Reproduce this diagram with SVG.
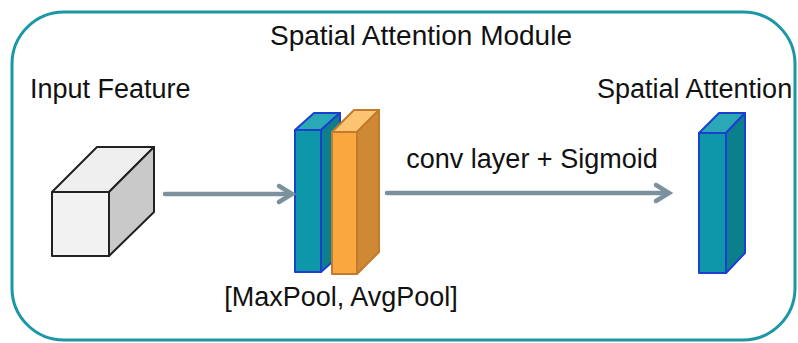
<svg xmlns="http://www.w3.org/2000/svg" width="798" height="343" viewBox="0 0 798 343">
<style>
text{font-family:"Liberation Sans",Arial,sans-serif;fill:#111;}
.lbl{font-size:27px;}
.title{font-size:28px;}
.cube{stroke:#222;stroke-width:2;stroke-linejoin:round;}
.blue{stroke:#1c3fd0;stroke-width:2;stroke-linejoin:round;}
.orng{stroke:#c27a2c;stroke-width:2;stroke-linejoin:round;}
.conn{stroke:#7b929e;stroke-width:4.5;fill:none;stroke-linecap:round;stroke-linejoin:miter;}
</style>
<rect x="0" y="0" width="798" height="343" fill="#ffffff"/>
<rect id="frame" x="12" y="12" width="783" height="328" rx="52" ry="52" fill="#ffffff" stroke="#1b97a6" stroke-width="3"/>
<text class="title" x="421" y="45" text-anchor="middle">Spatial Attention Module</text>
<g id="input-feature">
<text class="lbl" x="30" y="98">Input Feature</text>
<polygon class="cube" points="52,192 97,147 154,147 109,192" fill="#efefef"/>
<polygon class="cube" points="109,192 154,147 154,212 109,256" fill="#c9c9c9"/>
<rect class="cube" x="52" y="192" width="57" height="64" fill="#f2f2f2"/>
</g>
<g id="pooling">
<polygon class="blue" points="295,130 314,113 340,113 321,130" fill="#2aa8b6"/>
<polygon class="blue" points="321,130 340,113 340,255 321,272" fill="#0c7f8c"/>
<rect class="blue" x="295" y="130" width="26" height="142" fill="#0e97a8"/>
<polygon class="orng" points="332,132 354,110 379,110 357,132" fill="#fdc473"/>
<polygon class="orng" points="357,132 379,110 379,252 357,274" fill="#cf8935"/>
<rect class="orng" x="332" y="132" width="25" height="142" fill="#fba73f"/>
<text class="lbl" x="341" y="306" text-anchor="middle">[MaxPool, AvgPool]</text>
</g>
<g id="spatial-attention">
<text class="lbl" x="597" y="98">Spatial Attention</text>
<polygon class="blue" points="699,133 719,113 745,113 726,133" fill="#2aa8b6"/>
<polygon class="blue" points="726,133 745,113 745,253 726,273" fill="#0c7f8c"/>
<rect class="blue" x="699" y="133" width="27" height="140" fill="#0e97a8"/>
</g>
<g id="connectors">
<line class="conn" x1="165" y1="194" x2="290" y2="194"/>
<polyline class="conn" points="279,186 292,194 279,202"/>
<line class="conn" x1="387" y1="193" x2="667" y2="193"/>
<polyline class="conn" points="656,185 669,193 656,201"/>
<text class="lbl" x="532" y="168" text-anchor="middle">conv layer + Sigmoid</text>
</g>
</svg>
